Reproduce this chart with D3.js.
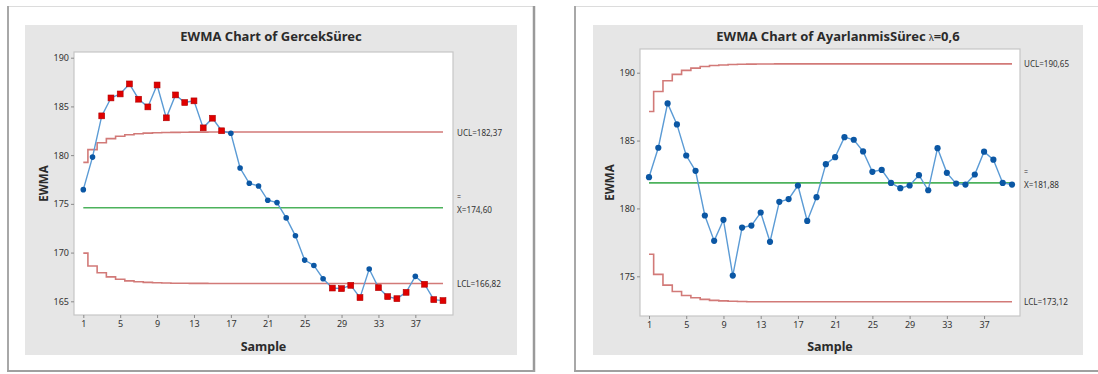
<!DOCTYPE html>
<html>
<head>
<meta charset="utf-8">
<script src="https://cdn.jsdelivr.net/npm/d3@7"></script>
<style>
  html, body { margin: 0; padding: 0; background: #ffffff; }
  svg { display: block; }
</style>
</head>
<body>
<svg id="chart" width="1098" height="374"></svg>
<script>
// Sample numbers and axis ticks
const samples = d3.range(1, 41);
const xTicks = [1, 5, 9, 13, 17, 21, 25, 29, 33, 37];
const gercekYTicks = [165, 170, 175, 180, 185, 190];
const ayarYTicks = [175, 180, 185, 190];

// EWMA statistics, GercekSürec
const gercekEwma = [176.46, 179.80, 184.03, 185.87, 186.28, 187.31, 185.74, 184.95, 187.20, 183.83,
                    186.18, 185.40, 185.57, 182.80, 183.79, 182.50, 182.25, 178.68, 177.11, 176.84,
                    175.37, 175.13, 173.56, 171.72, 169.23, 168.68, 167.32, 166.36, 166.30, 166.64,
                    165.38, 168.31, 166.40, 165.48, 165.27, 165.92, 167.56, 166.75, 165.17, 165.07];
const gercekUcl = [179.26, 180.57, 181.27, 181.69, 181.94, 182.10, 182.20, 182.26, 182.30, 182.32,
                   182.34, 182.35, 182.36, 182.36, 182.37, 182.37, 182.37, 182.37, 182.37, 182.37,
                   182.37, 182.37, 182.37, 182.37, 182.37, 182.37, 182.37, 182.37, 182.37, 182.37,
                   182.37, 182.37, 182.37, 182.37, 182.37, 182.37, 182.37, 182.37, 182.37, 182.37];
const gercekLcl = [169.94, 168.63, 167.93, 167.51, 167.26, 167.10, 167.00, 166.94, 166.90, 166.88,
                   166.86, 166.85, 166.84, 166.84, 166.83, 166.82, 166.82, 166.82, 166.82, 166.82,
                   166.82, 166.82, 166.82, 166.82, 166.82, 166.82, 166.82, 166.82, 166.82, 166.82,
                   166.82, 166.82, 166.82, 166.82, 166.82, 166.82, 166.82, 166.82, 166.82, 166.82];
const gercekCenter = 174.60;
const gercekLabels = ["UCL=182,37", "X=174,60", "LCL=166,82"];

// EWMA statistics, AyarlanmisSürec
const ayarEwma = [182.30, 184.47, 187.74, 186.19, 183.90, 182.77, 179.48, 177.61, 179.16, 175.05,
                  178.59, 178.74, 179.70, 177.54, 180.49, 180.69, 181.69, 179.08, 180.83, 183.26,
                  183.78, 185.25, 185.06, 184.20, 182.70, 182.84, 181.88, 181.49, 181.69, 182.45,
                  181.34, 184.44, 182.62, 181.83, 181.76, 182.50, 184.18, 183.59, 181.88, 181.76];
const ayarUcl = [187.14, 188.62, 189.41, 189.88, 190.17, 190.34, 190.46, 190.53, 190.57, 190.60,
                 190.62, 190.63, 190.64, 190.64, 190.65, 190.65, 190.65, 190.65, 190.65, 190.65,
                 190.65, 190.65, 190.65, 190.65, 190.65, 190.65, 190.65, 190.65, 190.65, 190.65,
                 190.65, 190.65, 190.65, 190.65, 190.65, 190.65, 190.65, 190.65, 190.65, 190.65];
const ayarLcl = [176.62, 175.14, 174.35, 173.88, 173.59, 173.42, 173.30, 173.23, 173.19, 173.16,
                 173.14, 173.13, 173.12, 173.12, 173.12, 173.12, 173.12, 173.12, 173.12, 173.12,
                 173.12, 173.12, 173.12, 173.12, 173.12, 173.12, 173.12, 173.12, 173.12, 173.12,
                 173.12, 173.12, 173.12, 173.12, 173.12, 173.12, 173.12, 173.12, 173.12, 173.12];
const ayarCenter = 181.88;
const ayarLabels = ["UCL=190,65", "X=181,88", "LCL=173,12"];

const svg = d3.select("#chart");
const FONT = "'Noto Sans', 'Open Sans', sans-serif";

const colors = {
  gray: "#e6e6e6",
  plotBorder: "#c6c6c6",
  line: "#5b9bd5",
  dot: "#0b57a4",
  out: "#e00000",
  outEdge: "#b00000",
  limit: "#d27a78",
  center: "#4cb25c",
  text: "#333333"
};

function drawPanel(cfg) {
  const g = svg.append("g");

  // card frame with soft edges
  const f = cfg.frame;
  g.append("rect").attr("x", f.x).attr("y", f.y).attr("width", f.w).attr("height", f.h)
    .attr("fill", "#ffffff");
  g.append("line").attr("x1", f.x).attr("x2", f.x + f.w).attr("y1", f.y + 0.5).attr("y2", f.y + 0.5)
    .attr("stroke", "#dcdcdc").attr("stroke-width", 1);
  g.append("line").attr("x1", f.x + 1).attr("x2", f.x + 1).attr("y1", f.y).attr("y2", f.y + f.h)
    .attr("stroke", "#a8a8a8").attr("stroke-width", 2);
  g.append("line").attr("x1", f.x + f.w - 1).attr("x2", f.x + f.w - 1).attr("y1", f.y).attr("y2", f.y + f.h)
    .attr("stroke", "#9a9a9a").attr("stroke-width", 2.5);
  g.append("line").attr("x1", f.x).attr("x2", f.x + f.w).attr("y1", f.y + f.h - 1).attr("y2", f.y + f.h - 1)
    .attr("stroke", "#a0a0a0").attr("stroke-width", 2);

  // chart background
  const b = cfg.gray;
  g.append("rect").attr("x", b.x).attr("y", b.y).attr("width", b.w).attr("height", b.h)
    .attr("fill", colors.gray);

  const p = cfg.plot;
  g.append("rect").attr("x", p.x).attr("y", p.y).attr("width", p.w).attr("height", p.h)
    .attr("fill", "#ffffff").attr("stroke", colors.plotBorder).attr("stroke-width", 1.2);

  const x = d3.scaleLinear().domain([1, 40]).range(cfg.xRange);
  const y = d3.scaleLinear().domain(cfg.yRef).range(cfg.yRefPx);

  // axes
  const yAxis = g.append("g").attr("transform", `translate(${p.x},0)`)
    .call(d3.axisLeft(y).tickValues(cfg.yTicks).tickSize(3).tickPadding(2).tickFormat(d3.format("d")));
  const xAxis = g.append("g").attr("transform", `translate(0,${p.y + p.h})`)
    .call(d3.axisBottom(x).tickValues(xTicks).tickSize(3).tickPadding(3).tickFormat(d3.format("d")));
  [yAxis, xAxis].forEach(a => {
    a.select(".domain").remove();
    a.selectAll(".tick line").attr("stroke", "#8a8a8a");
    a.selectAll(".tick text").attr("fill", colors.text).style("font-family", FONT).style("font-size", "9px");
  });

  // titles
  const title = g.append("text").attr("x", b.x + b.w / 2).attr("y", 41)
    .attr("text-anchor", "middle").attr("fill", "#2b2b2b")
    .style("font-family", FONT).style("font-weight", "bold").style("font-size", "13px");
  title.append("tspan").text(cfg.title);
  if (cfg.lambda) {
    title.append("tspan").text("  ");
    title.append("tspan").text("λ").style("font-size", "9px").style("font-weight", "normal");
    title.append("tspan").text(cfg.lambda);
  }

  g.append("text")
    .attr("transform", `translate(${p.x - 31},${p.y + p.h / 2}) rotate(-90)`)
    .attr("text-anchor", "middle").attr("dominant-baseline", "central")
    .attr("fill", "#2b2b2b").style("font-family", FONT).style("font-weight", "bold").style("font-size", "11.5px")
    .text("EWMA");
  g.append("text").attr("x", p.x + p.w / 2).attr("y", 346)
    .attr("text-anchor", "middle").attr("dominant-baseline", "central")
    .attr("fill", "#2b2b2b").style("font-family", FONT).style("font-weight", "bold").style("font-size", "12.5px")
    .text("Sample");

  // control limits
  const step = d3.line().x((d, i) => x(samples[i])).y(d => y(d)).curve(d3.curveStep);
  [cfg.ucl, cfg.lcl].forEach(arr => {
    g.append("path").attr("d", step(arr)).attr("fill", "none")
      .attr("stroke", colors.limit).attr("stroke-width", 1.6);
  });
  g.append("line").attr("x1", x(1)).attr("x2", x(40))
    .attr("y1", y(cfg.center)).attr("y2", y(cfg.center))
    .attr("stroke", colors.center).attr("stroke-width", 1.6);

  // limit labels
  const lx = p.x + p.w + 4;
  const lab = (txt, yy, len) => g.append("text").attr("x", lx).attr("y", yy)
    .attr("dominant-baseline", "central").attr("fill", colors.text)
    .attr("textLength", len).attr("lengthAdjust", "spacingAndGlyphs")
    .style("font-family", FONT).style("font-size", "9px").text(txt);
  lab(cfg.labels[0], y(cfg.ucl[39]), 45);
  lab("=", y(cfg.center) - 11, 4);
  lab(cfg.labels[1], y(cfg.center) + 1.5, 35);
  lab(cfg.labels[2], y(cfg.lcl[39]), 44);

  // EWMA series
  const line = d3.line().x((d, i) => x(samples[i])).y(d => y(d));
  g.append("path").attr("d", line(cfg.ewma)).attr("fill", "none")
    .attr("stroke", colors.line).attr("stroke-width", 1.4);

  const pts = cfg.ewma.map((v, i) => ({ s: samples[i], v, out: v > cfg.ucl[i] || v < cfg.lcl[i] }));
  g.selectAll("circle.pt").data(pts.filter(d => !d.out)).enter().append("circle")
    .attr("class", "pt").attr("cx", d => x(d.s)).attr("cy", d => y(d.v))
    .attr("r", cfg.r).attr("fill", colors.dot);
  const sq = cfg.r * 2.1;
  g.selectAll("rect.pt").data(pts.filter(d => d.out)).enter().append("rect")
    .attr("class", "pt").attr("x", d => x(d.s) - sq / 2).attr("y", d => y(d.v) - sq / 2)
    .attr("width", sq).attr("height", sq)
    .attr("fill", colors.out).attr("stroke", colors.outEdge).attr("stroke-width", 0.6);
}

drawPanel({
  frame: { x: 7, y: 6, w: 528, h: 366 },
  gray: { x: 25, y: 25, w: 492, h: 330 },
  plot: { x: 74, y: 52, w: 379, h: 263 },
  xRange: [83.3, 443],
  yRef: [165, 190], yRefPx: [301.3, 57.7],
  yTicks: gercekYTicks,
  title: "EWMA Chart of GercekSürec",
  ewma: gercekEwma, ucl: gercekUcl, lcl: gercekLcl, center: gercekCenter,
  labels: gercekLabels,
  r: 2.8
});

drawPanel({
  frame: { x: 574, y: 6, w: 540, h: 366 },
  gray: { x: 593, y: 25, w: 490, h: 330 },
  plot: { x: 640, y: 49, w: 380, h: 267 },
  xRange: [649, 1012],
  yRef: [175, 190], yRefPx: [276.3, 72.7],
  yTicks: ayarYTicks,
  title: "EWMA Chart of AyarlanmisSürec",
  lambda: "=0,6",
  ewma: ayarEwma, ucl: ayarUcl, lcl: ayarLcl, center: ayarCenter,
  labels: ayarLabels,
  r: 3.1
});
</script>
</body>
</html>
